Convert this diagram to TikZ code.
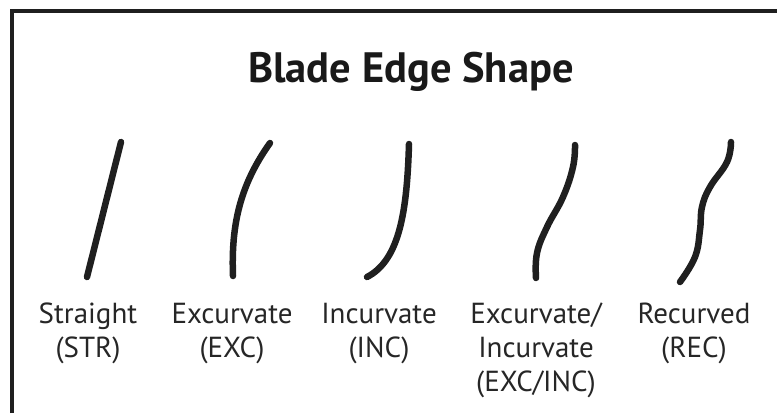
\documentclass[tikz,border=0pt]{standalone}
\usepackage{fontspec}
\setmainfont{PT Sans}
\begin{document}
\begin{tikzpicture}[x=1pt,y=-1pt,
  frame/.style={line width=4pt,color=black!88},
  blade/.style={line width=6.5pt,line cap=round,color=black!88},
  title/.style={font=\bfseries\fontsize{42.5}{42.5}\selectfont,anchor=base,text=black!90,inner sep=0pt},
  lbl/.style={font=\fontsize{29}{34}\selectfont,anchor=base,align=center,text=black!85,inner sep=0pt}]
\useasboundingbox (0,0) rectangle (777,413);
\draw[frame] (11.5,413) -- (11.5,10.5) -- (777,10.5);
\node[title] (t) at (411,82) {Blade Edge Shape};
% blades
\draw[blade] (121,142) -- (87,277);
\draw[blade] (233,276) .. controls (231,225) and (240,185) .. (270,143);
\draw[blade] (409,144) .. controls (407,210) and (400,260) .. (367,277);
\draw[blade] plot[smooth,tension=0.7] coordinates {(575,145) (573,167) (563,197) (547,227) (537,253) (536,278)};
\draw[blade] plot[smooth,tension=0.7] coordinates {(731,142) (727,162) (710,187) (702,207) (700,230) (695,257) (680,282)};
% labels (base anchor = baseline of the last line)
\node[lbl] (l1) at (88,357) {Straight\\(STR)};
\node[lbl] (l2) at (232,357) {Excurvate\\(EXC)};
\node[lbl] (l3) at (379,357) {Incurvate\\(INC)};
\node[lbl] (l4) at (536,391) {Excurvate/\\Incurvate\\(EXC/INC)};
\node[lbl] (l5) at (694,357) {Recurved\\(REC)};
\end{tikzpicture}
\end{document}
